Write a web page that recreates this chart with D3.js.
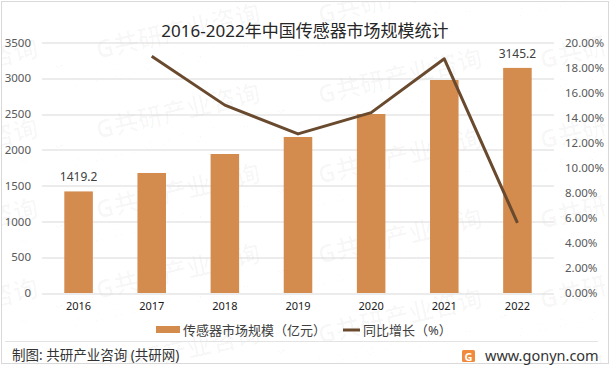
<!DOCTYPE html>
<html>
<head>
<meta charset="utf-8">
<script src="https://cdn.jsdelivr.net/npm/d3@7"></script>
<style>
  body { margin: 0; background: #fff; }
  text { font-family: "Noto Sans", "Noto Sans CJK SC", sans-serif; }
</style>
</head>
<body>
<div id="chart"></div>
<script>
// data
const years = ["2016", "2017", "2018", "2019", "2020", "2021", "2022"];
const marketSize = [1419.2, 1677, 1942, 2180, 2501, 2976, 3145.2];   // 亿元
const growthRate = [null, 18.9, 15.0, 12.7, 14.4, 18.7, 5.6];        // %
const labelledYears = ["2016", "2022"];
const leftTicks = [0, 500, 1000, 1500, 2000, 2500, 3000, 3500];
const rightTicks = [0, 2, 4, 6, 8, 10, 12, 14, 16, 18, 20];

const W = 612, H = 370;
const margin = {top: 42.5, right: 58, bottom: 77, left: 42};
const barColor = "#d38b4e";
const lineColor = "#6a4a2e";

const svg = d3.select("#chart").append("svg")
    .attr("width", W)
    .attr("height", H);

svg.append("defs").append("clipPath")
    .attr("id", "frameClip")
    .append("rect")
    .attr("x", 2).attr("y", 2).attr("width", W - 6).attr("height", H - 9);

svg.append("rect")
    .attr("x", 1.5).attr("y", 1.5)
    .attr("width", W - 5).attr("height", H - 8)
    .attr("fill", "#fff")
    .attr("stroke", "#d9d9d9");

// faint tiled watermark, clipped to the frame
const wm = svg.append("g")
    .attr("class", "watermark")
    .attr("clip-path", "url(#frameClip)");
for (let c = -1; c < 3; c++) {
    for (let r = -1; r < 5; r++) {
        const cx = 180 + c * 222;
        const cy = 120 + r * 80 - c * 35;
        const g = wm.append("g")
            .attr("transform", `translate(${cx},${cy}) rotate(-13)`);
        g.append("text")
            .attr("text-anchor", "middle")
            .attr("font-size", 25)
            .attr("font-weight", "bold")
            .attr("fill", "#000")
            .attr("fill-opacity", 0.028)
            .text("G共研产业咨询");
        g.append("text")
            .attr("y", 22)
            .attr("text-anchor", "middle")
            .attr("font-size", 16)
            .attr("letter-spacing", 8)
            .attr("fill", "#000")
            .attr("fill-opacity", 0.028)
            .text("www.gonyn.com");
    }
}

const innerW = W - margin.left - margin.right;
const innerH = H - margin.top - margin.bottom;

const plot = svg.append("g")
    .attr("transform", `translate(${margin.left},${margin.top})`);

const x = d3.scaleBand().domain(years).range([0, innerW])
    .paddingInner(0.61).paddingOuter(0.305);
const yLeft = d3.scaleLinear().domain([0, 3500]).range([innerH, 0]);
const yRight = d3.scaleLinear().domain([0, 20]).range([innerH, 0]);

// gridlines
plot.append("g").selectAll("line")
    .data(leftTicks)
    .join("line")
    .attr("x1", 0).attr("x2", innerW)
    .attr("y1", d => Math.round(yLeft(d)) + 0.5)
    .attr("y2", d => Math.round(yLeft(d)) + 0.5)
    .attr("stroke", "#d9d9d9");

// left axis
const leftAxis = plot.append("g")
    .call(d3.axisLeft(yLeft).tickValues(leftTicks).tickSize(0).tickPadding(11)
        .tickFormat(d3.format("d")));
leftAxis.select(".domain").remove();
leftAxis.selectAll("text")
    .attr("font-size", 11.5).attr("fill", "#595959");

// right axis
const rightAxis = plot.append("g")
    .attr("transform", `translate(${innerW},0)`)
    .call(d3.axisRight(yRight).tickValues(rightTicks).tickSize(0).tickPadding(11)
        .tickFormat(d => d.toFixed(2) + "%"));
rightAxis.select(".domain").remove();
rightAxis.selectAll("text")
    .attr("font-size", 11.5).attr("fill", "#595959");

// x axis
const xAxis = plot.append("g")
    .attr("transform", `translate(0,${innerH})`)
    .call(d3.axisBottom(x).tickSize(0).tickPadding(9));
xAxis.select(".domain").remove();
xAxis.selectAll("text")
    .attr("font-size", 11).attr("fill", "#1a1a1a");

// bars
const rows = years.map((y, i) => ({year: y, size: marketSize[i], rate: growthRate[i]}));
plot.selectAll(".bar")
    .data(rows)
    .join("rect")
    .attr("class", "bar")
    .attr("x", d => x(d.year))
    .attr("width", x.bandwidth())
    .attr("y", d => yLeft(d.size))
    .attr("height", d => innerH - yLeft(d.size))
    .attr("fill", barColor);

plot.selectAll(".barLabel")
    .data(rows.filter(d => labelledYears.includes(d.year)))
    .join("text")
    .attr("class", "barLabel")
    .attr("x", d => x(d.year) + x.bandwidth() / 2)
    .attr("y", d => yLeft(d.size) - 10)
    .attr("text-anchor", "middle")
    .attr("font-size", 12)
    .attr("fill", "#404040")
    .text(d => d.size.toFixed(1));

// growth line
const line = d3.line()
    .defined(d => d.rate != null)
    .x(d => x(d.year) + x.bandwidth() / 2)
    .y(d => yRight(d.rate));
plot.append("path")
    .datum(rows)
    .attr("d", line)
    .attr("fill", "none")
    .attr("stroke", lineColor)
    .attr("stroke-width", 3)
    .attr("stroke-linejoin", "round");

// title
svg.append("text")
    .attr("x", 305).attr("y", 37)
    .attr("text-anchor", "middle")
    .attr("font-size", 17)
    .attr("fill", "#262626")
    .text("2016-2022年中国传感器市场规模统计");

// legend
const legend = svg.append("g").attr("transform", "translate(0,330)");
legend.append("rect")
    .attr("x", 156).attr("y", -4).attr("width", 24).attr("height", 7)
    .attr("fill", barColor);
legend.append("text")
    .attr("x", 183).attr("y", 5)
    .attr("font-size", 13).attr("fill", "#404040")
    .text("传感器市场规模（亿元）");
legend.append("line")
    .attr("x1", 343).attr("x2", 360).attr("y1", 0).attr("y2", 0)
    .attr("stroke", lineColor).attr("stroke-width", 3);
legend.append("text")
    .attr("x", 363).attr("y", 5)
    .attr("font-size", 13).attr("fill", "#404040")
    .text("同比增长（%）");

// footer
svg.append("line")
    .attr("x1", 5).attr("x2", 598).attr("y1", 341.5).attr("y2", 341.5)
    .attr("stroke", "#e3e3e3");
svg.append("text")
    .attr("x", 12).attr("y", 360)
    .attr("font-size", 13.5).attr("fill", "#333")
    .text("制图: 共研产业咨询 (共研网)");

const logo = svg.append("g").attr("transform", "translate(462,350)");
logo.append("rect")
    .attr("width", 13).attr("height", 12).attr("rx", 1.5)
    .attr("fill", "#f08a3c");
logo.append("text")
    .attr("x", 6.5).attr("y", 10.5)
    .attr("text-anchor", "middle")
    .attr("font-size", 11).attr("font-weight", "bold")
    .attr("fill", "#fff")
    .text("G");
svg.append("text")
    .attr("x", 485).attr("y", 361)
    .attr("font-size", 14.5).attr("fill", "#333")
    .text("www.gonyn.com");
</script>
</body>
</html>
